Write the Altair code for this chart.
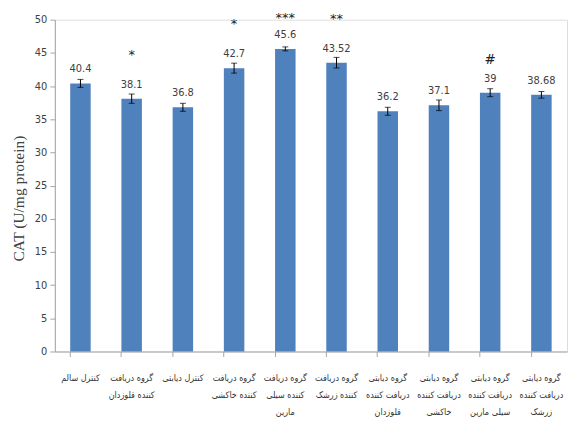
import altair as alt
import pandas as pd

groups = [
    "کنترل سالم",
    "گروه دریافت|کننده قلوزدان",
    "کنترل دیابتی",
    "گروه دریافت|کننده خاکشی",
    "گروه دریافت|کننده سیلی|مارین",
    "گروه دریافت|کننده زرشک",
    "گروه دیابتی|دریافت کننده|قلوزدان",
    "گروه دیابتی|دریافت کننده|خاکشی",
    "گروه دیابتی|دریافت کننده|سیلی مارین",
    "گروه دیابتی|دریافت کننده|زرشک",
]
values = [40.4, 38.1, 36.8, 42.7, 45.6, 43.52, 36.2, 37.1, 39, 38.68]
errors = [0.6, 0.7, 0.6, 0.75, 0.3, 0.8, 0.6, 0.8, 0.6, 0.5]
value_labels = ["40.4", "38.1", "36.8", "42.7", "45.6", "43.52", "36.2", "37.1", "39", "38.68"]
stars = ["", "*", "", "*", "***", "**", "", "", "", ""]
hashes = ["", "", "", "", "", "", "", "", "#", ""]
y_ticks = [0, 5, 10, 15, 20, 25, 30, 35, 40, 45, 50]

df = pd.DataFrame({
    "group": groups,
    "value": values,
    "lo": [v - e for v, e in zip(values, errors)],
    "hi": [v + e for v, e in zip(values, errors)],
    "label": value_labels,
    "star": stars,
    "hash": hashes,
})

NUMFONT = "Liberation Sans Narrow, DejaVu Sans Condensed, Arial Narrow, sans-serif"
y_scale = alt.Scale(domain=[0, 50], nice=False)

x_axis = alt.Axis(
    labelExpr="split(datum.label, '|')",
    labelAngle=0,
    labelFontSize=9,
    labelFont="DejaVu Sans Condensed, DejaVu Sans, sans-serif",
    labelColor="#333333",
    labelLineHeight=17,
    labelPadding=17,
    labelLimit=80,
    labelOverlap=False,
    bandPosition=0,
    tickSize=5,
    tickColor="#a6a6a6",
    domainColor="#a6a6a6",
    grid=False,
)
y_axis = alt.Axis(
    values=y_ticks,
    labelOverlap=False,
    grid=False,
    tickSize=5,
    tickColor="#a6a6a6",
    domainColor="#a6a6a6",
    labelFont=NUMFONT,
    labelFontSize=11,
    labelColor="#404040",
    labelPadding=3,
    titleFont="Liberation Serif, serif",
    titleFontSize=15.5,
    titleFontWeight="normal",
    titleColor="#404040",
    titlePadding=8,
    titleY=179,
)
X = alt.X(
    "group:N",
    sort=groups,
    title=None,
    scale=alt.Scale(paddingInner=0.6, paddingOuter=0.3),
    axis=x_axis,
)


def Y(field):
    return alt.Y(field, scale=y_scale, title="CAT (U/mg protein)", axis=y_axis)


bars = alt.Chart(df).mark_bar(color="#4f81bd").encode(x=X, y=Y("value:Q"))

rules = alt.Chart(df).mark_rule(color="black", strokeWidth=1).encode(
    x=X, y=Y("lo:Q"), y2="hi:Q"
)
cap_lo = alt.Chart(df).mark_tick(color="black", size=6, thickness=1).encode(
    x=X, y=Y("lo:Q")
)
cap_hi = alt.Chart(df).mark_tick(color="black", size=6, thickness=1).encode(
    x=X, y=Y("hi:Q")
)

texts = alt.Chart(df).mark_text(
    dy=-14, font=NUMFONT, fontSize=11, color="#404040"
).encode(x=X, y=Y("value:Q"), text="label:N")

star_text = alt.Chart(df).transform_filter(
    "datum.star != '' && datum.star != '***'"
).mark_text(
    dy=-44, font="DejaVu Sans, sans-serif", fontSize=13, color="#222222"
).encode(x=X, y=Y("value:Q"), text="star:N")

star3_text = alt.Chart(df).transform_filter(
    "datum.star == '***'"
).mark_text(
    dy=-31, font="DejaVu Sans, sans-serif", fontSize=13, color="#222222"
).encode(x=X, y=Y("value:Q"), text="star:N")

hash_text = alt.Chart(df).mark_text(
    dy=-34, font=NUMFONT, fontSize=15, color="#222222"
).encode(x=X, y=Y("value:Q"), text="hash:N")

chart = (
    alt.layer(bars, rules, cap_lo, cap_hi, texts, star_text, star3_text, hash_text)
    .properties(
        width=514,
        height=333,
        autosize=alt.AutoSizeParams(type="none"),
        padding={"left": 47, "top": 11, "right": 2, "bottom": 70},
    )
    .configure_view(stroke=None)
    .configure(background="white")
)

chart.save("out.html", embed_options={"renderer": "svg", "actions": False})
